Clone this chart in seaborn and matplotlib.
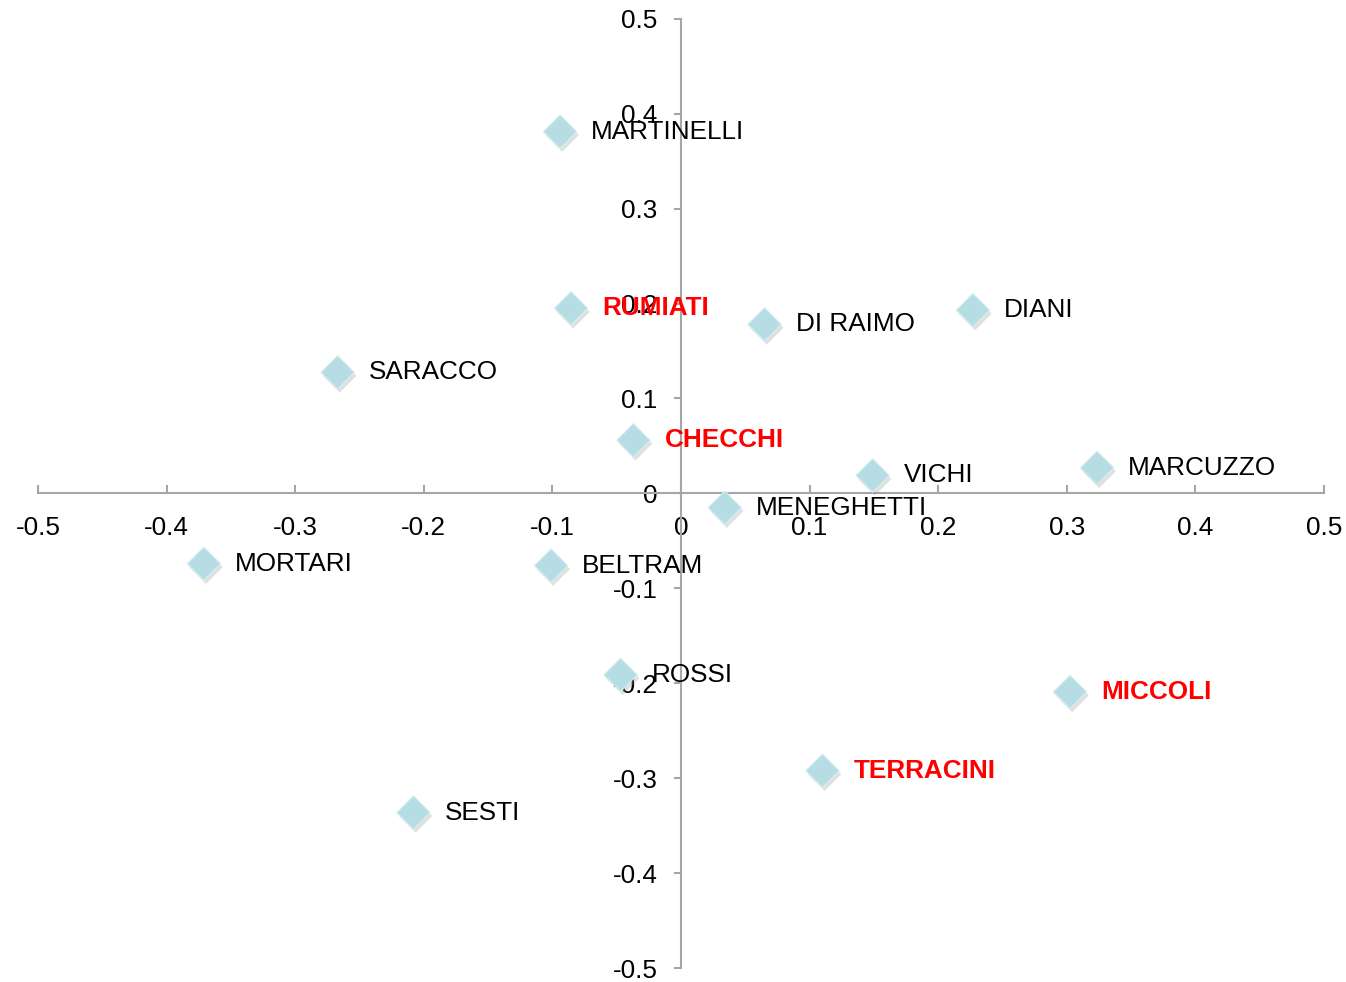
import matplotlib
matplotlib.use("Agg")
import matplotlib.pyplot as plt
import matplotlib.patheffects as pe
import seaborn as sns
import pandas as pd

names = ["MARTINELLI", "RUMIATI", "DI RAIMO", "DIANI", "SARACCO", "CHECCHI", "VICHI",
         "MARCUZZO", "MENEGHETTI", "MORTARI", "BELTRAM", "ROSSI", "MICCOLI", "TERRACINI", "SESTI"]
x_vals = [-0.094, -0.0855, 0.065, 0.227, -0.267, -0.037, 0.149,
          0.3235, 0.034, -0.371, -0.101, -0.047, 0.3025, 0.110, -0.208]
y_vals = [0.381, 0.195, 0.178, 0.193, 0.1275, 0.056, 0.019,
          0.027, -0.015, -0.074, -0.076, -0.191, -0.209, -0.292, -0.336]
highlight = ["RUMIATI", "CHECCHI", "MICCOLI", "TERRACINI"]
ticks = [-0.5, -0.4, -0.3, -0.2, -0.1, 0, 0.1, 0.2, 0.3, 0.4, 0.5]
tick_labels = ["-0.5", "-0.4", "-0.3", "-0.2", "-0.1", "0", "0.1", "0.2", "0.3", "0.4", "0.5"]

df = pd.DataFrame({"name": names, "x": x_vals, "y": y_vals})

sns.set_theme(style="white")
plt.rcParams["font.family"] = ["Liberation Sans", "DejaVu Sans"]

fig = plt.figure(figsize=(13.46, 9.82), dpi=100)
ax = fig.add_axes([0.0282, 0.0140, 0.9555, 0.9670])

sns.scatterplot(data=df, x="x", y="y", marker="D", s=290, color="#b5dde3",
                edgecolor="#d8eef1", linewidth=0.8, ax=ax, zorder=3)
for coll in ax.collections:
    coll.set_path_effects([pe.withSimplePatchShadow(offset=(1.5, -2.5), shadow_rgbFace="#9a9a9a", alpha=0.3)])

FS = 18.8
for n, xv, yv in zip(names, x_vals, y_vals):
    if n in highlight:
        ax.annotate(n, (xv, yv), xytext=(22.5, 0), textcoords="offset points",
                    ha="left", va="center", fontsize=FS, color="#ff0000", fontweight="bold", zorder=4)
    else:
        ax.annotate(n, (xv, yv), xytext=(22.5, 0), textcoords="offset points",
                    ha="left", va="center", fontsize=FS, color="black", zorder=4)

ax.set_xlim(-0.5, 0.5)
ax.set_ylim(-0.5, 0.5)
ax.set_xlabel("")
ax.set_ylabel("")

for s in ["top", "right"]:
    ax.spines[s].set_visible(False)
ax.spines["left"].set_position(("data", 0))
ax.spines["bottom"].set_position(("data", 0))
for s in ["left", "bottom"]:
    ax.spines[s].set_color("#a6a6a6")
    ax.spines[s].set_linewidth(1.5)
    ax.spines[s].set_zorder(1)

ax.set_xticks(ticks)
ax.set_xticklabels(tick_labels)
ax.set_yticks(ticks)
ax.set_yticklabels(tick_labels)
ax.tick_params(axis="x", direction="in", length=6, width=1.5, color="#a6a6a6",
               labelsize=FS, labelcolor="black", pad=16.5, bottom=True)
ax.tick_params(axis="y", direction="out", length=5, width=1.5, color="#a6a6a6",
               labelsize=FS, labelcolor="black", pad=12, left=True)
ax.grid(False)

fig.savefig("out.png", dpi=100)
